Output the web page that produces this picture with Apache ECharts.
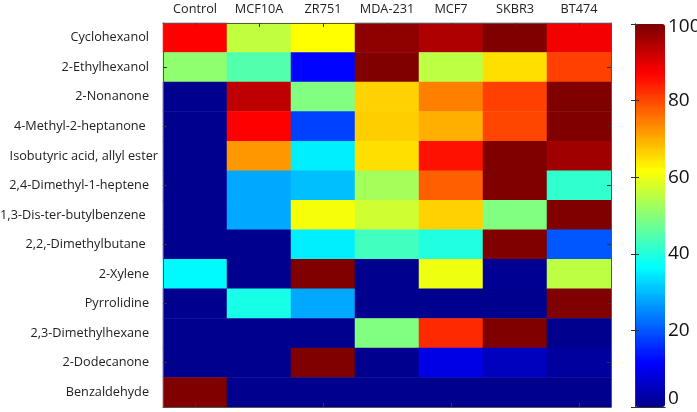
<!DOCTYPE html>
<html>
<head>
<meta charset="utf-8">
<script src="https://cdn.jsdelivr.net/npm/echarts@6/dist/echarts.min.js"></script>
<style>html,body{margin:0;padding:0;background:#fff}#c{width:697px;height:412px}</style>
</head>
<body>
<div id="c"></div>
<script>
// Cell lines (columns) and compounds (rows)
const columns = ['Control','MCF10A','ZR751','MDA-231','MCF7','SKBR3','BT474'];
const compounds = ['Cyclohexanol','2-Ethylhexanol','2-Nonanone','4-Methyl-2-heptanone ','Isobutyric acid, allyl ester','2,4-Dimethyl-1-heptene','1,3-Dis-ter-butylbenzene ','2,2,-Dimethylbutane ','2-Xylene','Pyrrolidine','2,3-Dimethylhexane','2-Dodecanone','Benzaldehyde'];

// Values per column, top row to bottom row
const control = [87, 51, 0, 0, 0, 0, 0, 0, 36, 0, 0, 0, 100];
const mcf10a  = [56, 45, 93, 87, 72, 28, 28, 0, 0, 39, 0, 0, 0];
const zr751   = [62, 12, 49, 18, 35, 30, 61, 35, 100, 28, 0, 100, 0];
const mda231  = [98, 100, 66, 67, 65, 53, 57, 43, 0, 0, 49, 0, 0];
const mcf7    = [95, 55, 74, 70, 85, 78, 66, 40, 60, 0, 83, 9, 0];
const skbr3   = [100, 65, 81, 80, 100, 100, 49, 100, 1, 0, 100, 5, 0];
const bt474   = [88, 81, 100, 100, 96, 41, 100, 20, 55, 100, 0, 2, 0];

const columnValues = [control, mcf10a, zr751, mda231, mcf7, skbr3, bt474];
const cells = [];
columnValues.forEach((vals, ci) => vals.forEach((v, ri) => cells.push([ci, ri, v])));

// MATLAB jet(64) colormap
function u(k){ if(k<1||k>47) return 0; if(k<=16) return k/16; if(k<=31) return 1; return (48-k)/16; }
function hex(x){ const h = Math.round(x*255).toString(16); return h.length<2?'0'+h:h; }
const jet = [];
for (let i = 1; i <= 64; i++) {
  const r = i >= 25 ? u(i-24) : 0;
  const g = (i >= 9 && i <= 55) ? u(i-8) : 0;
  const b = i <= 39 ? u(i+8) : 0;
  const c = '#' + hex(r) + hex(g) + hex(b);
  jet.push(c, c);
}

const labelFont = '"Open Sans", "Noto Sans", sans-serif';
const fs = 12.7;
const chart = echarts.init(document.getElementById('c'), null, {renderer: 'canvas'});
const tickStyle = {color: '#333', width: 1};
chart.setOption({
  animation: false,
  backgroundColor: '#fff',
  grid: [
    {left: 163, top: 23, width: 448, height: 384, show: false, containLabel: false, outerBoundsMode: 'none'},
    {left: 635, top: 24, width: 30, height: 383, show: false, containLabel: false, outerBoundsMode: 'none'}
  ],
  xAxis: [
    {type: 'category', gridIndex: 0, data: columns, position: 'top',
     axisLine: {show: true, lineStyle: {color: '#555', width: 1}},
     axisTick: {show: true, inside: true, alignWithLabel: true, length: 4, lineStyle: tickStyle},
     axisLabel: {color: '#222', fontSize: fs, fontFamily: labelFont, margin: 7, interval: 0},
     splitLine: {show: false}, z: 5},
    {type: 'category', gridIndex: 0, data: columns, position: 'bottom',
     axisLine: {show: true, lineStyle: {color: '#555', width: 1}},
     axisTick: {show: true, inside: true, alignWithLabel: true, length: 4, lineStyle: tickStyle},
     axisLabel: {show: false}, splitLine: {show: false}, z: 5},
    {type: 'value', gridIndex: 1, min: 0, max: 1, position: 'bottom',
     axisLine: {show: true, lineStyle: {color: '#333'}}, axisTick: {show: false},
     axisLabel: {show: false}, splitLine: {show: false}, z: 5},
    {type: 'value', gridIndex: 1, min: 0, max: 1, position: 'top',
     axisLine: {show: true, lineStyle: {color: '#333'}}, axisTick: {show: false},
     axisLabel: {show: false}, splitLine: {show: false}, z: 5}
  ],
  yAxis: [
    {type: 'category', gridIndex: 0, data: compounds, inverse: true, position: 'left',
     axisLine: {show: true, lineStyle: {color: '#555', width: 1}},
     axisTick: {show: true, inside: true, alignWithLabel: true, length: 4, lineStyle: tickStyle,
                interval: function(i){ return i % 2 === 1; }},
     axisLabel: {color: '#222', fontSize: fs, fontFamily: labelFont, margin: 5, interval: 0,
       formatter: function(v){ return v.indexOf('Isobutyric') === 0 ? '{w|' + v + '}' : '{n|' + v + '}'; },
       rich: {n: {fontSize: fs, fontFamily: labelFont, color: '#222', padding: [0, 9, 0, 0]},
              w: {fontSize: fs, fontFamily: labelFont, color: '#222'}}},
     splitLine: {show: false}, z: 5},
    {type: 'category', gridIndex: 0, data: compounds, inverse: true, position: 'right',
     axisLine: {show: true, lineStyle: {color: '#555', width: 1}},
     axisTick: {show: true, inside: true, alignWithLabel: true, length: 4, lineStyle: tickStyle,
                interval: function(i){ return i % 2 === 1; }},
     axisLabel: {show: false}, splitLine: {show: false}, z: 5},
    {type: 'value', gridIndex: 1, min: 0, max: 100, interval: 20, position: 'left',
     axisLine: {show: true, lineStyle: {color: '#333'}},
     axisTick: {show: true, inside: true, length: 4, lineStyle: tickStyle},
     axisLabel: {show: false}, splitLine: {show: false}, z: 5},
    {type: 'value', gridIndex: 1, min: 0, max: 100, interval: 20, position: 'right',
     axisLine: {show: true, lineStyle: {color: '#333'}},
     axisTick: {show: true, inside: true, length: 4, lineStyle: tickStyle},
     axisLabel: {show: true, color: '#111', fontSize: 19, fontFamily: labelFont, margin: 3,
       formatter: function(v){ if (v === 0) return '{lo|0}'; if (v === 100) return '{hi|100}'; return '{m|' + v + '}'; },
       rich: {lo: {fontSize: 19, fontFamily: labelFont, color: '#111', padding: [0,0,16,0]},
              hi: {fontSize: 19, fontFamily: labelFont, color: '#111', padding: [6,0,0,0]},
              m: {fontSize: 19, fontFamily: labelFont, color: '#111'}}},
     splitLine: {show: false}, z: 5}
  ],
  visualMap: {
    type: 'continuous', min: 0, max: 100, seriesIndex: 0, calculable: false,
    orient: 'vertical', left: 635, top: 24, itemWidth: 30, itemHeight: 383,
    padding: 0, text: null, show: true,
    inRange: {color: jet}
  },
  series: [{
    type: 'heatmap', xAxisIndex: 0, yAxisIndex: 0, data: cells,
    itemStyle: {borderWidth: 0}, emphasis: {disabled: true}, progressive: 0
  }]
});
</script>
</body>
</html>
